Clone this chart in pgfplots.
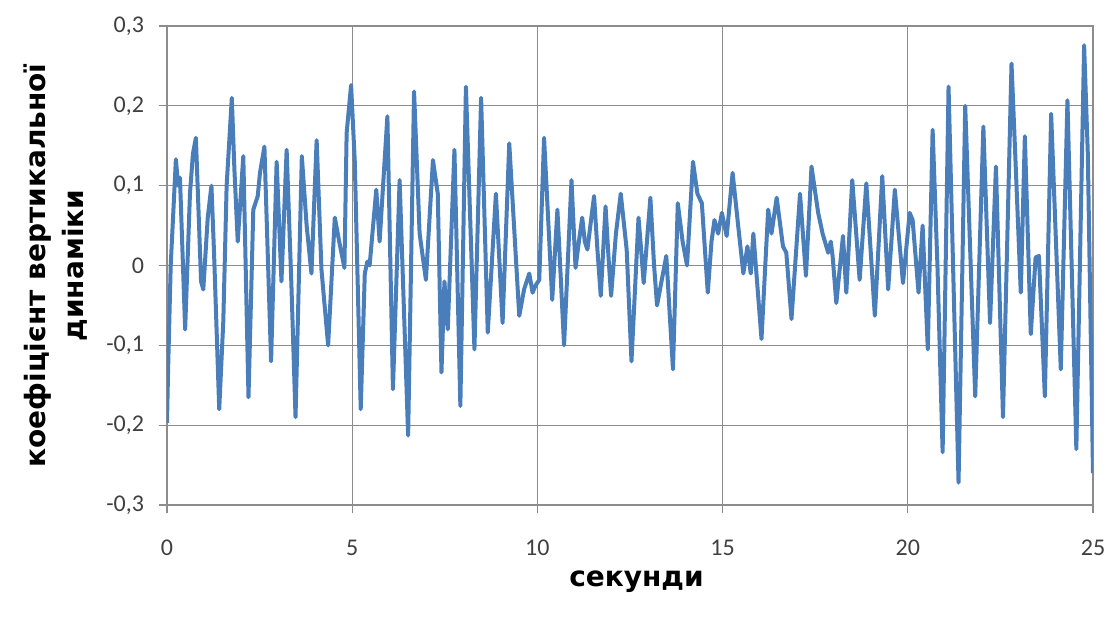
\documentclass[border=0pt]{standalone}
\usepackage{fontspec}
\setmainfont{Carlito}
\newfontfamily\labelfont{DejaVu Sans}
\usepackage{pgfplots}
\pgfplotsset{compat=1.18}
\definecolor{lineBlue}{HTML}{4A7EBB}
\definecolor{gridGray}{HTML}{8C8C8C}

\begin{document}
\begin{tikzpicture}
\path[use as bounding box] (-83.5pt,-56.5pt) rectangle (470pt,252.5pt);
\begin{axis}[
  at={(0,0)}, anchor=south west,
  scale only axis,
  width=463pt, height=239.5pt,
  xmin=0, xmax=25, ymin=-0.3, ymax=0.3,
  xtick={0,5,...,25},
  ytick={-0.3,-0.2,-0.1,0,0.1,0.2,0.3},
  grid=major,
  major grid style={gridGray, line width=0.6pt},
  axis line style={gridGray, line width=0.8pt},
  tick style={gridGray, line width=0.6pt},
  tick align=outside,
  major tick length=4pt,
  xtick pos=bottom, ytick pos=left,
  /pgf/number format/assume math mode=true,
  /pgf/number format/use comma,
  /pgf/number format/fixed,
  /pgf/number format/precision=1,
  tick label style={font=\fontsize{12}{14}\selectfont, text=black!75},
  xticklabel style={yshift=-10pt},
  yticklabel style={xshift=-4pt},
  xlabel={секунди},
  ylabel={коефіцієнт вертикальної\\динаміки},
  xlabel style={font=\labelfont\bfseries\fontsize{14}{17}\selectfont,
    at={(axis description cs:0.507,0)}, anchor=center, yshift=-38.5pt},
  ylabel style={font=\labelfont\bfseries\fontsize{14}{19}\selectfont,
    align=center, at={(axis description cs:-0.12,0.5)}, anchor=center},
]
\addplot[color=lineBlue, line width=2pt, line join=round, no markers]
coordinates {
(0,-0.197)(0.03,-0.13)(0.1,0)(0.24,0.133)(0.3,0.10)(0.35,0.11)
(0.49,-0.08)(0.62,0.09)(0.7,0.14)(0.78,0.16)(0.92,-0.02)(0.98,-0.03)
(1.1,0.06)(1.2,0.10)(1.27,0.016)(1.41,-0.18)(1.52,-0.07)(1.61,0.10)
(1.75,0.21)(1.82,0.12)(1.91,0.03)(2.06,0.137)(2.2,-0.165)(2.33,0.07)
(2.45,0.087)(2.51,0.116)(2.63,0.149)(2.81,-0.12)(2.96,0.13)(3.09,-0.02)
(3.23,0.145)(3.36,-0.026)(3.47,-0.19)(3.64,0.137)(3.77,0.05)(3.90,-0.01)
(4.04,0.157)(4.17,-0.005)(4.35,-0.1)(4.53,0.06)(4.67,0.025)(4.79,-0.003)
(4.85,0.166)(4.97,0.226)(5.07,0.13)(5.23,-0.18)(5.34,-0.01)(5.41,0.005)(5.47,0.0)
(5.65,0.095)(5.74,0.03)(5.95,0.187)(6.1,-0.155)(6.28,0.107)(6.51,-0.213)
(6.67,0.218)(6.82,0.04)(6.99,-0.018)(7.18,0.132)(7.31,0.09)(7.41,-0.134)
(7.49,-0.02)(7.58,-0.08)(7.76,0.145)(7.92,-0.176)(8.07,0.224)(8.3,-0.105)
(8.48,0.21)(8.66,-0.084)(8.88,0.09)(9.06,-0.072)(9.24,0.153)(9.51,-0.063)
(9.64,-0.03)(9.78,-0.01)(9.87,-0.034)(9.95,-0.025)(10.05,-0.018)(10.18,0.16)
(10.4,-0.043)(10.54,0.07)(10.72,-0.1)(10.92,0.107)(11.03,-0.003)(11.12,0.03)
(11.21,0.06)(11.28,0.03)(11.35,0.02)(11.43,0.05)(11.53,0.087)(11.62,0.02)
(11.71,-0.038)(11.84,0.074)(11.92,0.01)(11.99,-0.038)(12.12,0.04)(12.25,0.09)
(12.41,0.02)(12.54,-0.12)(12.73,0.06)(12.8,0.02)(12.87,-0.022)(13.05,0.085)
(13.15,0.0)(13.23,-0.05)(13.35,-0.02)(13.48,0.012)(13.66,-0.13)(13.79,0.078)
(13.92,0.03)(14.04,0.0)(14.2,0.13)(14.32,0.09)(14.44,0.078)(14.6,-0.034)
(14.7,0.03)(14.78,0.057)(14.88,0.04)(14.98,0.066)(15.11,0.037)(15.27,0.116)
(15.42,0.05)(15.56,-0.01)(15.67,0.024)(15.76,-0.01)(15.83,0.04)(16.05,-0.092)
(16.23,0.07)(16.32,0.04)(16.46,0.085)(16.63,0.024)(16.72,0.016)(16.86,-0.067)
(17.09,0.09)(17.25,-0.013)(17.4,0.124)(17.58,0.066)(17.7,0.04)(17.85,0.016)
(17.92,0.03)(17.97,0.012)(18.07,-0.047)(18.25,0.037)(18.34,-0.034)(18.5,0.107)
(18.7,-0.018)(18.88,0.103)(19.11,-0.063)(19.31,0.112)(19.47,-0.03)(19.65,0.095)
(19.87,-0.022)(20.05,0.066)(20.13,0.057)(20.29,-0.034)(20.4,0.05)(20.54,-0.105)
(20.67,0.17)(20.8,0.0)(20.94,-0.234)(21.1,0.224)(21.37,-0.272)(21.55,0.2)
(21.82,-0.164)(22.04,0.174)(22.22,-0.072)(22.38,0.124)(22.57,-0.19)(22.8,0.253)
(22.9,0.14)(23.05,-0.034)(23.16,0.162)(23.32,-0.086)(23.45,0.01)(23.54,0.012)
(23.7,-0.164)(23.87,0.19)(24.13,-0.13)(24.31,0.207)(24.55,-0.23)(24.76,0.276)
(24.86,0.14)(25.0,-0.26)
};
\end{axis}
\end{tikzpicture}
\end{document}
